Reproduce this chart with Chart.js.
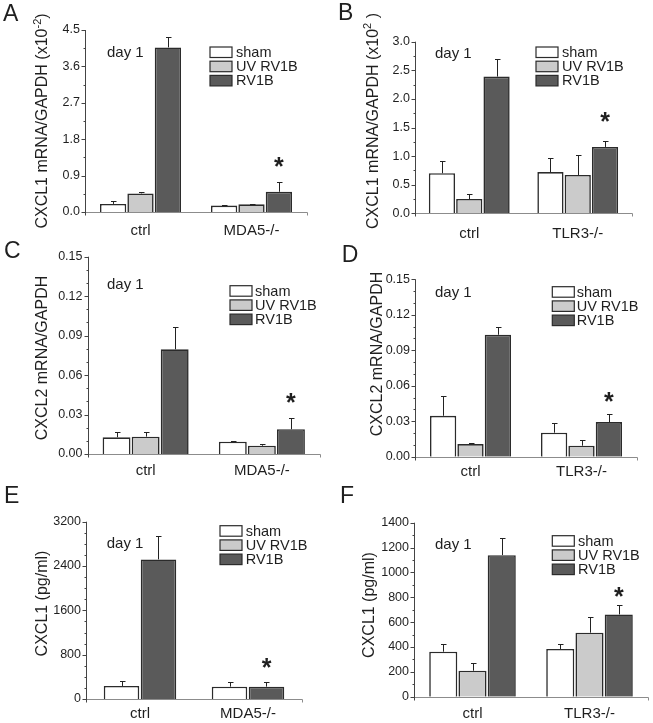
<!DOCTYPE html>
<html><head><meta charset="utf-8">
<script src="https://cdn.jsdelivr.net/npm/chart.js@4.4.1/dist/chart.umd.min.js"></script>
<style>
html,body{margin:0;padding:0;background:#fff;}
#wrap{position:relative;width:653px;height:723px;overflow:hidden;}
canvas{position:absolute;display:block;}
</style></head><body>
<div id="wrap">
<canvas id="cA" style="left:0;top:0"></canvas>
<canvas id="cB" style="left:326px;top:0"></canvas>
<canvas id="cC" style="left:0;top:240px"></canvas>
<canvas id="cD" style="left:326px;top:240px"></canvas>
<canvas id="cE" style="left:0;top:480px"></canvas>
<canvas id="cF" style="left:326px;top:480px"></canvas>
</div>
<script>
// ---------- data ----------
const seriesNames = ['sham', 'UV RV1B', 'RV1B'];
const groupsMDA5 = ['ctrl', 'MDA5-/-'];
const groupsTLR3 = ['ctrl', 'TLR3-/-'];

// A: CXCL1 mRNA, MDA5
const aSham = [0.20, 0.16], aShamErr = [0.07, 0.02];
const aUv   = [0.46, 0.19], aUvErr   = [0.04, 0.01];
const aRv   = [4.07, 0.50], aRvErr   = [0.26, 0.25];
const aTicks = ['0.0', '0.9', '1.8', '2.7', '3.6', '4.5'];

// B: CXCL1 mRNA, TLR3
const bSham = [0.70, 0.72], bShamErr = [0.21, 0.24];
const bUv   = [0.25, 0.67], bUvErr   = [0.08, 0.35];
const bRv   = [2.39, 1.16], bRvErr   = [0.30, 0.11];
const bTicks = ['0.0', '0.5', '1.0', '1.5', '2.0', '2.5', '3.0'];

// C: CXCL2 mRNA, MDA5
const cSham = [0.0127, 0.0094], cShamErr = [0.0038, 0.0007];
const cUv   = [0.0132, 0.0063], cUvErr   = [0.0035, 0.0013];
const cRv   = [0.0796, 0.0188], cRvErr   = [0.0172, 0.0083];
const cTicks = ['0.00', '0.03', '0.06', '0.09', '0.12', '0.15'];

// D: CXCL2 mRNA, TLR3
const dSham = [0.0346, 0.0203], dShamErr = [0.0169, 0.0084];
const dUv   = [0.0107, 0.0093], dUvErr   = [0.0011, 0.0048];
const dRv   = [0.1031, 0.0293], dRvErr   = [0.0068, 0.0065];
const dTicks = ['0.00', '0.03', '0.06', '0.09', '0.12', '0.15'];

// E: CXCL1 protein, MDA5 (no UV RV1B bars)
const eSham = [235, 223], eShamErr = [90, 78];
const eUv   = [null, null], eUvErr = [0, 0];
const eRv   = [2520, 223], eRvErr   = [427, 78];
const eTicks = ['0', '800', '1600', '2400', '3200'];

// F: CXCL1 protein, TLR3
const fSham = [362, 384], fShamErr = [62, 37];
const fUv   = [209, 515], fUvErr   = [64, 128];
const fRv   = [1139, 662], fRvErr  = [134, 78];
const fTicks = ['0', '200', '400', '600', '800', '1000', '1200', '1400'];

const starSeries = 2, starGroup = 1;   // asterisk over RV1B in knockout group

// ---------- style ----------
const FONT = "'Liberation Sans', Arial, Helvetica, sans-serif";
const INK = '#1f1f1f';
const seriesColors = ['#ffffff', '#cbcbcb', '#5a5a5a'];

const panels = [
  {id:'cA', letter:'A', W:326, H:240, L:85, R:307, T:30, B:212, cat:0.74, xPad:10, minor:1,
   groups:groupsMDA5, vals:[aSham,aUv,aRv], errs:[aShamErr,aUvErr,aRvErr], ticks:aTicks,
   title:['CXCL1 mRNA/GAPDH (x10','-2',')'], tx:47, ty:121,
   leg:{x:210, y:47, tx:236}, day:{x:107, y:56.5}, let:{x:3, y:20.5}, starGap:20},
  {id:'cB', letter:'B', W:327, H:240, L:89, R:306, T:41.7, B:213.3, cat:0.755, xPad:12, minor:1,
   groups:groupsTLR3, vals:[bSham,bUv,bRv], errs:[bShamErr,bUvErr,bRvErr], ticks:bTicks,
   title:['CXCL1 mRNA/GAPDH (x10','2',' )'], tx:51.5, ty:121,
   leg:{x:210, y:47, tx:236}, day:{x:109, y:58.3}, let:{x:12, y:20}, starGap:24},
  {id:'cC', letter:'C', W:326, H:240, L:87.5, R:320, T:16.7, B:214, cat:0.75, xPad:8, minor:2,
   groups:groupsMDA5, vals:[cSham,cUv,cRv], errs:[cShamErr,cUvErr,cRvErr], ticks:cTicks,
   title:['CXCL2 mRNA/GAPDH','',''], tx:47, ty:118,
   leg:{x:230, y:45.7, tx:255}, day:{x:107, y:49.3}, let:{x:4, y:18.3}, starGap:20},
  {id:'cD', letter:'D', W:327, H:240, L:89, R:311, T:39.3, B:216.7, cat:0.74, xPad:6, minor:2,
   groups:groupsTLR3, vals:[dSham,dUv,dRv], errs:[dShamErr,dUvErr,dRvErr], ticks:dTicks,
   title:['CXCL2 mRNA/GAPDH','',''], tx:56, ty:114,
   leg:{x:226.3, y:46.7, tx:250.7}, day:{x:109, y:56.7}, let:{x:15.7, y:21.7}, starGap:17},
  {id:'cE', letter:'E', W:326, H:243, L:86, R:302, T:41.7, B:219, cat:0.685, xPad:6, minor:3,
   groups:groupsMDA5, vals:[eSham,eUv,eRv], errs:[eShamErr,eUvErr,eRvErr], ticks:eTicks,
   title:['CXCL1 (pg/ml)','',''], tx:47, ty:123.5,
   leg:{x:220, y:45.7, tx:245.7}, day:{x:106.7, y:67.7}, let:{x:4, y:23.3}, starGap:19},
  {id:'cF', letter:'F', W:327, H:243, L:88, R:322, T:42.7, B:216.7, cat:0.75, xPad:8, minor:1,
   groups:groupsTLR3, vals:[fSham,fUv,fRv], errs:[fShamErr,fUvErr,fRvErr], ticks:fTicks,
   title:['CXCL1 (pg/ml)','',''], tx:48, ty:125,
   leg:{x:226.3, y:55.7, tx:252}, day:{x:109, y:69.3}, let:{x:14, y:23.3}, starGap:13}
];

const al = v => Math.round(v) + 0.5;

function decorPlugin(p) {
  return {
    id: 'decor' + p.letter,
    afterDraw(chart) {
      const ctx = chart.ctx, ys = chart.scales.y, ca = chart.chartArea;
      const L = al(ca.left), Bt = al(ca.bottom);
      ctx.save();
      // axes
      ctx.lineWidth = 1;
      ctx.strokeStyle = '#8c8c8c';
      ctx.beginPath();
      ctx.moveTo(L, Bt); ctx.lineTo(al(ca.right), Bt);
      ctx.moveTo(al(ca.right), Bt); ctx.lineTo(al(ca.right), Bt + 3);
      ctx.stroke();
      ctx.strokeStyle = '#444';
      ctx.beginPath();
      ctx.moveTo(L, ys.getPixelForValue(ys.max)); ctx.lineTo(L, Bt + 3);
      // major + minor ticks
      const tv = ys.ticks.map(t => t.value);
      tv.forEach((v, i) => {
        const y = al(ys.getPixelForValue(v));
        ctx.moveTo(L - 4, y); ctx.lineTo(L, y);
        if (i < tv.length - 1) {
          for (let k = 1; k <= p.minor; k++) {
            const mv = v + (tv[i + 1] - v) * k / (p.minor + 1);
            const my = al(ys.getPixelForValue(mv));
            ctx.moveTo(L - 2, my); ctx.lineTo(L, my);
          }
        }
      });
      ctx.stroke();

      // error bars
      ctx.strokeStyle = '#222';
      chart.data.datasets.forEach((ds, i) => {
        const meta = chart.getDatasetMeta(i);
        ds.data.forEach((v, j) => {
          if (v == null) return;
          const bar = meta.data[j];
          const top = al(ys.getPixelForValue(v + ds.err[j]));
          const x = al(bar.x);
          ctx.beginPath();
          ctx.moveTo(x, bar.y); ctx.lineTo(x, top);
          ctx.moveTo(x - 2.5, top); ctx.lineTo(x + 3, top);
          ctx.stroke();
        });
      });

      // asterisk
      {
        const ds = chart.data.datasets[starSeries];
        const bar = chart.getDatasetMeta(starSeries).data[starGroup];
        const v = ds.data[starGroup];
        const top = ys.getPixelForValue(v + ds.err[starGroup]);
        ctx.fillStyle = INK;
        ctx.font = 'bold 25px ' + FONT;
        ctx.textAlign = 'center';
        ctx.textBaseline = 'alphabetic';
        const m = ctx.measureText('*');
        const off = (m.actualBoundingBoxAscent - m.actualBoundingBoxDescent) / 2;
        ctx.fillText('*', bar.x, top - p.starGap + off);
      }

      // legend
      ctx.font = '14.5px ' + FONT;
      ctx.textAlign = 'left';
      ctx.textBaseline = 'middle';
      chart.data.datasets.forEach((ds, i) => {
        const y = p.leg.y + i * 14.2;
        ctx.fillStyle = ds.backgroundColor;
        ctx.fillRect(p.leg.x, y, 22, 10.5);
        ctx.strokeStyle = '#2b2b2b';
        ctx.lineWidth = 1.2;
        ctx.strokeRect(p.leg.x, y, 22, 10.5);
        ctx.fillStyle = INK;
        ctx.fillText(ds.label, p.leg.tx, y + 5.8);
      });

      // day label
      ctx.font = '15px ' + FONT;
      ctx.textBaseline = 'alphabetic';
      ctx.fillText('day 1', p.day.x, p.day.y);

      // panel letter
      ctx.font = '23px ' + FONT;
      ctx.fillText(p.letter, p.let.x, p.let.y);

      // y title with optional superscript
      ctx.save();
      ctx.translate(p.tx, p.ty);
      ctx.rotate(-Math.PI / 2);
      const fMain = '16px ' + FONT, fSup = '11px ' + FONT;
      ctx.font = fMain; const w1 = ctx.measureText(p.title[0]).width, w3 = ctx.measureText(p.title[2]).width;
      ctx.font = fSup; const w2 = ctx.measureText(p.title[1]).width;
      let x = -(w1 + w2 + w3) / 2;
      ctx.textAlign = 'left';
      ctx.font = fMain; ctx.fillText(p.title[0], x, 0); x += w1;
      ctx.font = fSup; ctx.fillText(p.title[1], x, -6.5); x += w2;
      ctx.font = fMain; ctx.fillText(p.title[2], x, 0);
      ctx.restore();

      ctx.restore();
    }
  };
}

panels.forEach(p => {
  const cv = document.getElementById(p.id);
  cv.width = p.W; cv.height = p.H;
  cv.style.width = p.W + 'px'; cv.style.height = p.H + 'px';
  const tickVals = p.ticks.map(Number);
  new Chart(cv, {
    type: 'bar',
    data: {
      labels: p.groups,
      datasets: seriesNames.map((n, i) => ({
        label: n,
        data: p.vals[i],
        err: p.errs[i],
        backgroundColor: seriesColors[i],
        borderColor: '#2b2b2b',
        borderWidth: 1.6,
        barPercentage: 0.96,
        categoryPercentage: p.cat,
        skipNull: true
      }))
    },
    options: {
      responsive: false,
      animation: false,
      events: [],
      layout: { padding: { left: 0, top: p.T, right: p.W - p.R, bottom: 0 } },
      plugins: { legend: { display: false }, tooltip: { enabled: false } },
      scales: {
        x: {
          grid: { display: false, drawTicks: false },
          border: { display: false },
          ticks: { color: INK, font: { family: FONT, size: 15 }, padding: p.xPad },
          afterFit: s => { s.height = p.H - p.B; }
        },
        y: {
          min: 0, max: tickVals[tickVals.length - 1],
          grid: { display: false, drawTicks: false },
          border: { display: false },
          ticks: { color: INK, font: { family: FONT, size: 12.5 }, padding: 5, autoSkip: false,
                   callback: (v, i) => p.ticks[i] },
          afterBuildTicks: s => { s.ticks = tickVals.map(v => ({ value: v })); },
          afterFit: s => { s.width = p.L; }
        }
      }
    },
    plugins: [decorPlugin(p)]
  });
});
</script>
</body></html>
